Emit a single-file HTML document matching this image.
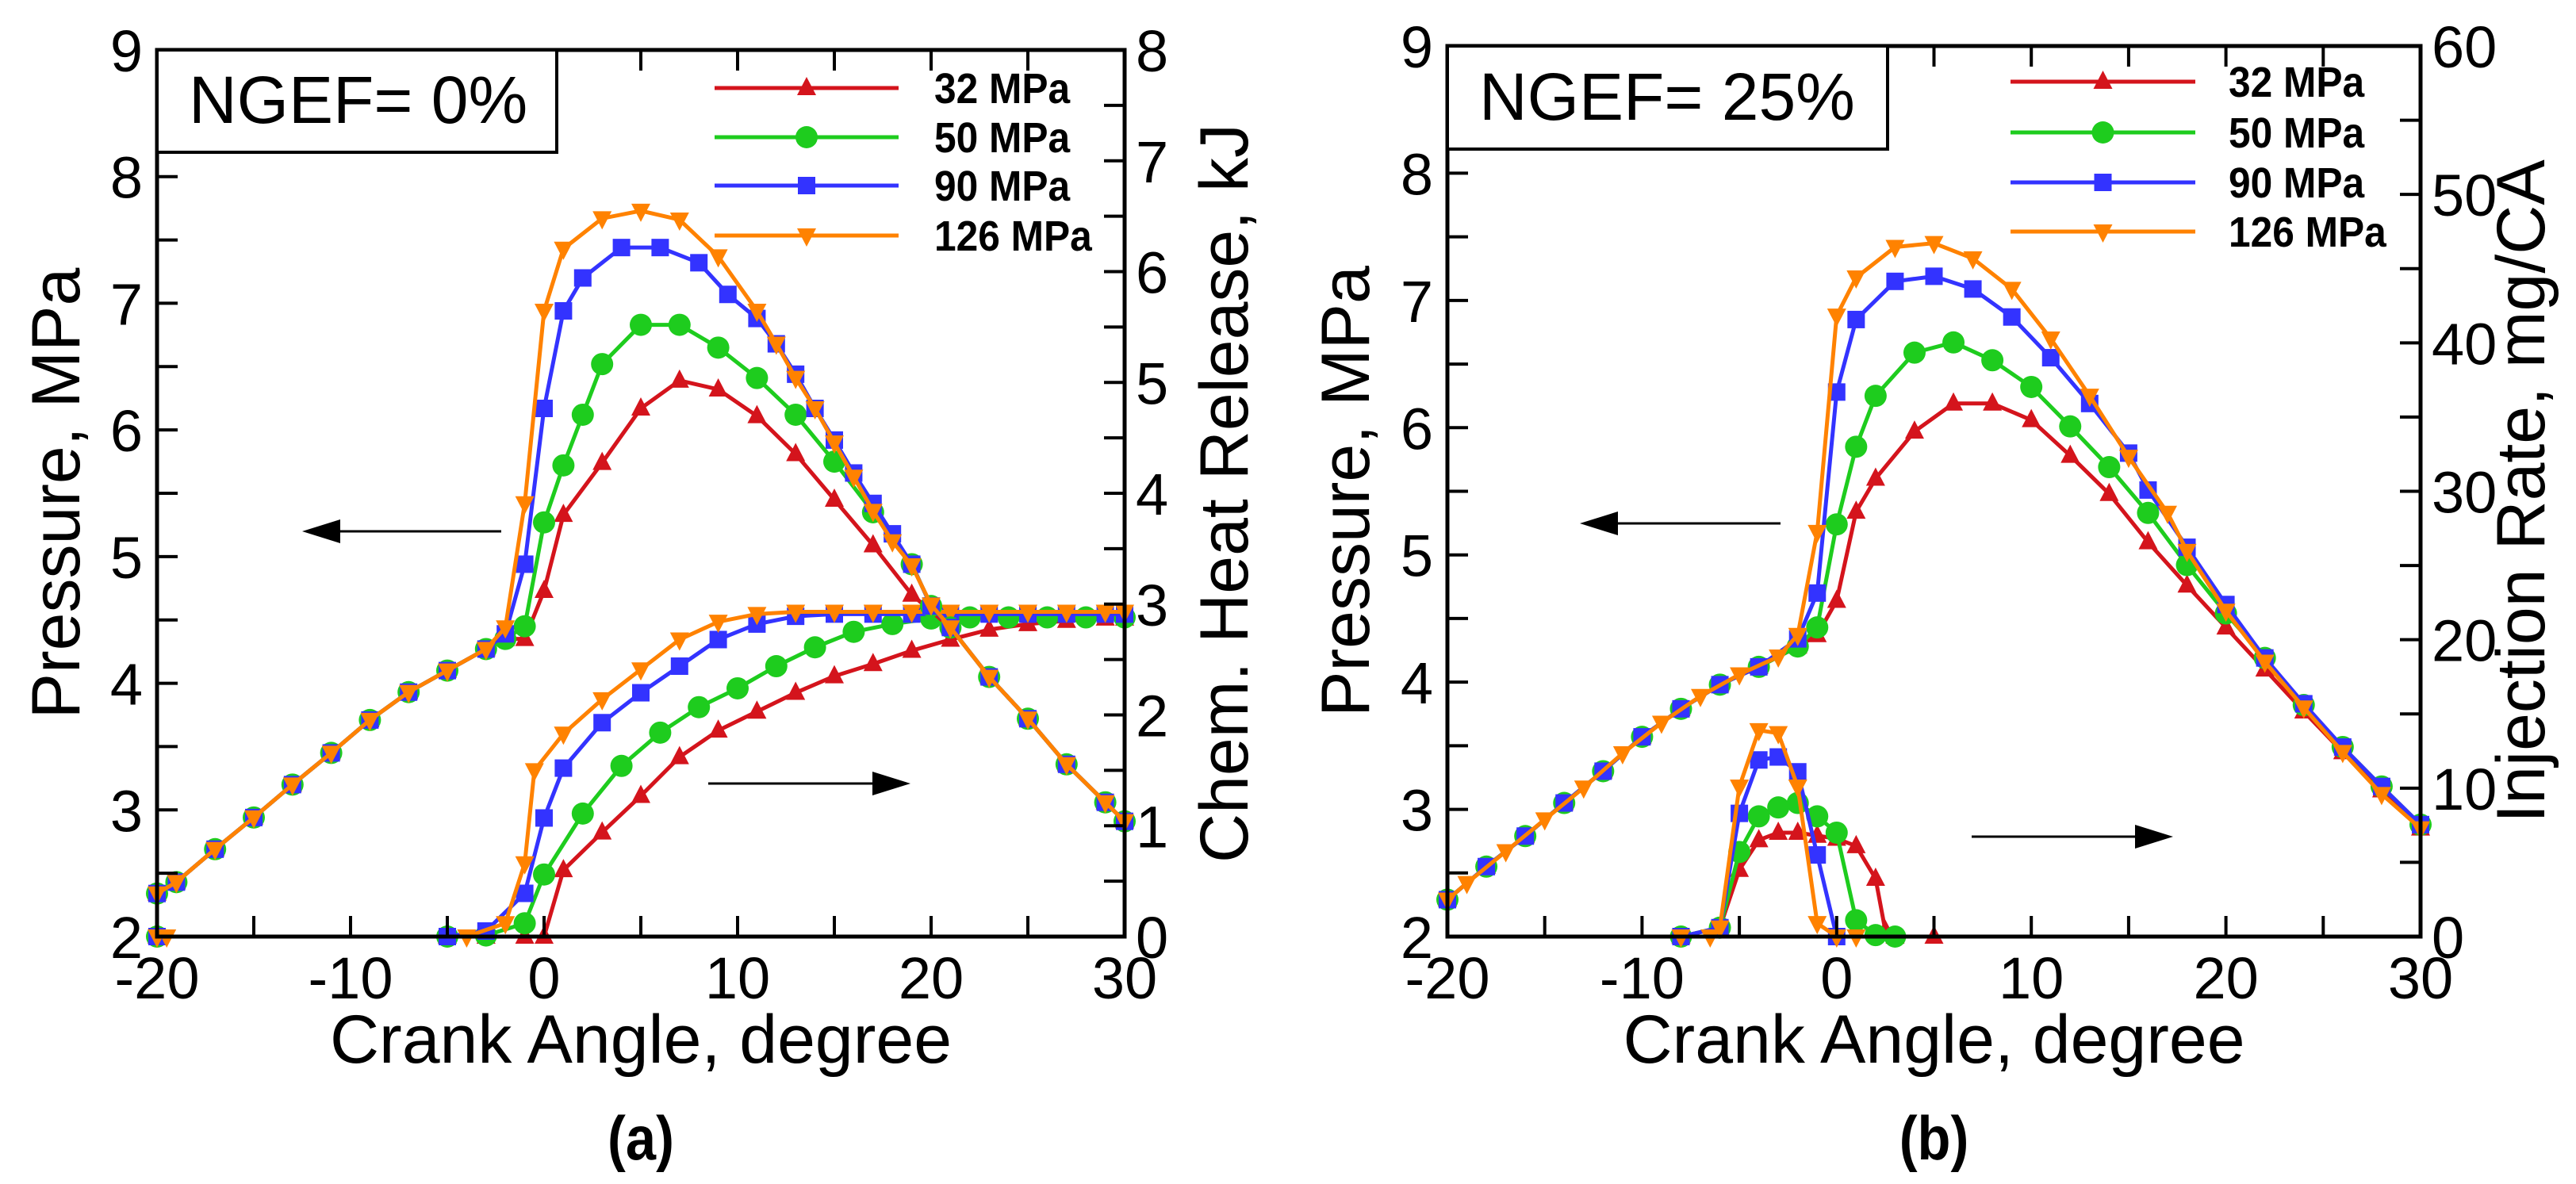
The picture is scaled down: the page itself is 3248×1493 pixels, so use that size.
<!DOCTYPE html>
<html><head><meta charset="utf-8"><style>
body{margin:0;background:#fff}
svg{display:block;font-family:"Liberation Sans",Arial,sans-serif}
</style></head><body>
<svg id="fig" width="3248" height="1493" viewBox="0 0 3248 1493" xmlns="http://www.w3.org/2000/svg"></svg>
<script>
// ---------- Panel (a) data: NGEF = 0% ----------
const aPx32 = [-20,-19,-17,-15,-13,-11,-9,-7,-5,-3,-2,-1,0,1,3,5,7,9,11,13,15,17,19,21,23,25,27,29,30];
const aP32  = [2.34,2.43,2.69,2.94,3.2,3.45,3.71,3.93,4.1,4.27,4.35,4.35,4.73,5.33,5.74,6.17,6.39,6.32,6.11,5.81,5.45,5.09,4.7,4.44,4.05,3.72,3.36,3.06,2.91];
const aPx50 = [-20,-19,-17,-15,-13,-11,-9,-7,-5,-3,-2,-1,0,1,2,3,5,7,9,11,13,15,17,19,20,21,23,25,27,29,30];
const aP50  = [2.34,2.43,2.69,2.94,3.2,3.45,3.71,3.93,4.1,4.27,4.35,4.45,5.27,5.72,6.12,6.52,6.83,6.83,6.65,6.41,6.12,5.75,5.35,4.94,4.61,4.44,4.05,3.72,3.36,3.06,2.91];
const aPx90 = [-20,-19,-17,-15,-13,-11,-9,-7,-5,-3,-2,-1,0,1,2,4,6,8,9.5,11,12,13,14,15,16,17,18,19,20,21,23,25,27,29,30];
const aP90  = [2.34,2.43,2.69,2.94,3.2,3.45,3.71,3.93,4.1,4.27,4.39,4.94,6.17,6.94,7.2,7.44,7.44,7.32,7.07,6.88,6.68,6.44,6.17,5.92,5.66,5.42,5.18,4.94,4.61,4.44,4.05,3.72,3.36,3.06,2.91];
const aPx126 = [-20,-19,-17,-15,-13,-11,-9,-7,-5,-3,-2,-1,0,1,3,5,7,9,11,12,13,14,15,16,17,18,19,20,21,23,25,27,29,30];
const aP126  = [2.34,2.43,2.69,2.94,3.2,3.45,3.71,3.93,4.1,4.27,4.44,5.42,6.94,7.43,7.67,7.73,7.66,7.37,6.94,6.68,6.41,6.17,5.9,5.63,5.36,5.12,4.93,4.62,4.44,4.05,3.72,3.36,3.06,2.91];
const aHx32 = [-20,-5,-3,-1,0,1,3,5,7,9,11,13,15,17,19,21,23,25,27,29,30];
const aH32  = [0,0,0,0,0,0.6,0.94,1.27,1.62,1.86,2.03,2.2,2.35,2.46,2.58,2.68,2.77,2.82,2.85,2.87,2.87];
const aHx50 = [-20,-5,-3,-1,0,2,4,6,8,10,12,14,16,18,20,22,24,26,28,30];
const aH50  = [0,0,0.01,0.12,0.56,1.11,1.54,1.84,2.07,2.24,2.44,2.61,2.75,2.82,2.87,2.88,2.88,2.88,2.88,2.88];
const aHx90 = [-20,-5,-3,-1,0,1,3,5,7,9,11,13,15,17,19,21,23,25,27,29,30];
const aH90  = [0,0,0.05,0.39,1.07,1.52,1.93,2.2,2.44,2.68,2.82,2.89,2.91,2.91,2.91,2.91,2.91,2.91,2.91,2.91,2.91];
const aHx126 = [-20,-19.5,-4,-2,-1,-0.5,1,3,5,7,9,11,13,15,17,19,21,23,25,27,29,30];
const aH126  = [0,0,0,0.12,0.66,1.5,1.83,2.14,2.41,2.68,2.84,2.91,2.93,2.93,2.93,2.93,2.93,2.93,2.93,2.93,2.93,2.93];

// ---------- Panel (b) data: NGEF = 25% ----------
const bPx = [-20,-18,-16,-14,-12,-10,-8,-6,-4,-2,-1,0,1,2,4,6,8,10,12,14,16,18,20,22,24,26,28,30];
const bP32 = [2.29,2.55,2.79,3.05,3.3,3.57,3.79,3.98,4.12,4.28,4.37,4.64,5.34,5.6,5.97,6.19,6.19,6.06,5.78,5.48,5.1,4.76,4.43,4.1,3.77,3.45,3.15,2.85];
const bP50 = [2.29,2.55,2.79,3.05,3.3,3.57,3.79,3.98,4.12,4.28,4.43,5.24,5.85,6.25,6.59,6.67,6.53,6.32,6.01,5.69,5.33,4.92,4.54,4.19,3.82,3.49,3.18,2.88];
const bPx90 = [-20,-18,-16,-14,-12,-10,-8,-6,-4,-2,-1,0,1,3,5,7,9,11,13,15,16,18,20,22,24,26,28,30];
const bP90 = [2.29,2.55,2.79,3.05,3.3,3.57,3.79,3.98,4.12,4.34,4.7,6.28,6.85,7.15,7.19,7.09,6.87,6.55,6.19,5.8,5.51,5.06,4.61,4.19,3.83,3.49,3.18,2.88];
const bPx126 = [-20,-19,-17,-15,-13,-11,-9,-7,-5,-3,-2,-1,0,1,3,5,7,9,11,13,15,17,18,20,22,24,26,28,30];
const bP126 = [2.29,2.42,2.67,2.92,3.17,3.44,3.68,3.89,4.06,4.2,4.37,5.18,6.88,7.18,7.42,7.45,7.33,7.09,6.7,6.25,5.77,5.33,5.03,4.56,4.16,3.8,3.45,3.12,2.85];
const bIx32 = [-8,-6,-5,-4,-3,-2,-1,0,1,2,2.5,3,5];
const bI32  = [0,0.6,4.5,6.5,7.0,7.0,6.8,6.6,6.1,3.9,0.4,0,0];
const bIx50 = [-8,-6,-5,-4,-3,-2,-1,0,1,2,3];
const bI50  = [0,0.6,5.7,8.1,8.7,9.0,8.1,7.0,1.1,0.1,0];
const bIx90 = [-8,-6,-5,-4,-3,-2,-1,0];
const bI90  = [0,0.6,8.3,11.9,12.1,11.1,5.5,0];
const bIx126 = [-8,-6.5,-6,-5,-4,-3,-2,-1,0,1];
const bI126  = [0,0,0.6,10.1,13.9,13.7,10.1,0.9,0,0];

const seriesNames = ['32 MPa','50 MPa','90 MPa','126 MPa'];
const xTicks = [-20,-10,0,10,20,30];

const NS='http://www.w3.org/2000/svg';
const svg=document.getElementById('fig');
const COL=['#d4141c','#1ecc1e','#3333ff','#ff8200'];
const MK=['tri','circ','sq','tdown'];
function el(tag,attrs,parent){const e=document.createElementNS(NS,tag);for(const k in attrs)e.setAttribute(k,attrs[k]);(parent||svg).appendChild(e);return e;}

function marker(g,type,x,y,c){
  let m;
  if(type==='circ'){m=el('circle',{cx:x,cy:y,r:14,fill:c},g);}
  else if(type==='sq'){m=el('rect',{x:x-11,y:y-11,width:22,height:22,fill:c},g);}
  else if(type==='tri'){m=el('polygon',{points:`${x},${y-14} ${x-12},${y+9} ${x+12},${y+9}`,fill:c},g);}
  else {m=el('polygon',{points:`${x},${y+14} ${x-12},${y-9} ${x+12},${y-9}`,fill:c},g);}
  return m;
}

function panel(o){
  const g=el('g',{});
  
  
  const X=v=>o.L+(v-(-20))/50*(o.R-o.L);
  const YP=v=>o.B-(v-2)/7*(o.B-o.T);
  const YR=v=>o.B-v/o.rmax*(o.B-o.T);
  function draw(xs,ys,Y,i,nm){
    const sg=el('g',{},g);
    
    
    const pts=xs.map((x,j)=>X(x)+','+Y(ys[j])).join(' ');
    const pl=el('polyline',{points:pts,fill:'none',stroke:COL[i],'stroke-width':5,'stroke-linejoin':'round'},sg);
    
    
    xs.forEach((x,j)=>{const m=marker(sg,MK[i],X(x),Y(ys[j]),COL[i]);
      
      });
  }
  for(let i=0;i<4;i++) draw(o.rx[i],o.ry[i],YR,i,o.rname+'-'+i);
  for(let i=0;i<4;i++) draw(o.px[i],o.py[i],YP,i,'pressure-'+i);
  const fr=el('rect',{x:o.L,y:o.T,width:o.R-o.L,height:o.B-o.T,fill:'none',stroke:'#000','stroke-width':5},g);
  
  
  const tk=26;
  for(let v=-20;v<=30;v+=5){
    const x=X(v);
    el('line',{x1:x,y1:o.B,x2:x,y2:o.B-tk,stroke:'#000','stroke-width':4},g);
    el('line',{x1:x,y1:o.T,x2:x,y2:o.T+tk,stroke:'#000','stroke-width':4},g);
  }
  xTicks.forEach(v=>{const t=el('text',{x:X(v),y:o.B+78,'font-size':74,'text-anchor':'middle'},g);t.textContent=v;
    
    });
  for(let v=2;v<=9.001;v+=0.5){
    const y=YP(v);
    el('line',{x1:o.L,y1:y,x2:o.L+tk,y2:y,stroke:'#000','stroke-width':4},g);
    if(Number.isInteger(v)){const t=el('text',{x:o.L-18,y:y+27,'font-size':74,'text-anchor':'end'},g);t.textContent=v;
      
      }
  }
  for(let v=0;v<=o.rmax+1e-6;v+=o.rminor){
    const y=YR(v);
    el('line',{x1:o.R,y1:y,x2:o.R-tk,y2:y,stroke:'#000','stroke-width':4},g);
    if(Math.abs(v/o.rmajor-Math.round(v/o.rmajor))<1e-6){const t=el('text',{x:o.R+14,y:y+27,'font-size':74},g);t.textContent=Math.round(v);
      
      }
  }
  let t=el('text',{x:(o.L+o.R)/2,y:1340,'font-size':86,'text-anchor':'middle'},g);t.textContent='Crank Angle, degree';
  
  
  t=el('text',{x:0,y:0,'font-size':86,'text-anchor':'middle',transform:`translate(${o.ylx},${(o.T+o.B)/2}) rotate(-90)`},g);t.textContent='Pressure, MPa';
  
  
  t=el('text',{x:0,y:0,'font-size':86,'text-anchor':'middle',transform:`translate(${o.yrx},${(o.T+o.B)/2}) rotate(-90)`},g);t.textContent=o.rtitle;
  
  
  t=el('text',{x:0,y:0,'font-size':78,'font-weight':'bold','text-anchor':'middle',transform:`translate(${(o.L+o.R)/2},1462) scale(0.88,1)`},g);t.textContent=o.cap;
  
  
  const bx=el('rect',{x:o.L,y:o.T,width:o.boxW,height:o.boxB-o.T,fill:'#fff',stroke:'#000','stroke-width':4},g);
  
  
  t=el('text',{x:o.L+40,y:o.boxB-37,'font-size':84},g);t.textContent=o.ngef;
  
  
  for(let i=0;i<4;i++){
    const lg=el('g',{},g);
    
    
    const y=o.legY[i];
    el('line',{x1:o.legX1,y1:y,x2:o.legX2,y2:y,stroke:COL[i],'stroke-width':5},lg);
    marker(lg,MK[i],(o.legX1+o.legX2)/2,y,COL[i]);
    const lt=el('text',{x:0,y:0,'font-size':54,'font-weight':'bold',transform:`translate(${o.legTX},${y+19}) scale(0.92,1)`},lg);lt.textContent=seriesNames[i];
  }
  function arrow(x1,x2,y,nm){
    const ag=el('g',{},g);
    
    
    const d=x2>x1?1:-1;
    el('line',{x1:x1,y1:y,x2:x2-d*40,y2:y,stroke:'#000','stroke-width':3},ag);
    el('polygon',{points:`${x2},${y} ${x2-d*48},${y-15} ${x2-d*48},${y+15}`,fill:'#000'},ag);
  }
  arrow(o.arL[0],o.arL[1],o.arL[2],'left-axis-arrow');
  arrow(o.arR[0],o.arR[1],o.arR[2],'right-axis-arrow');
}

panel({name:'panel-a',L:198,R:1418,T:63,B:1181,rmax:8,rminor:0.5,rmajor:1,
  px:[aPx32,aPx50,aPx90,aPx126],py:[aP32,aP50,aP90,aP126],
  rx:[aHx32,aHx50,aHx90,aHx126],ry:[aH32,aH50,aH90,aH126],rname:'heat-release',
  rtitle:'Chem. Heat Release, kJ',ylx:100,yrx:1573,cap:'(a)',ngef:'NGEF= 0%',boxW:504,boxB:192,
  legY:[111,173,234,297],legX1:901,legX2:1133,legTX:1178,
  arL:[632,381,670],arR:[893,1148,988]});
panel({name:'panel-b',L:1825,R:3052,T:58,B:1181,rmax:60,rminor:5,rmajor:10,
  px:[bPx,bPx,bPx90,bPx126],py:[bP32,bP50,bP90,bP126],
  rx:[bIx32,bIx50,bIx90,bIx126],ry:[bI32,bI50,bI90,bI126],rname:'injection-rate',
  rtitle:'Injection Rate, mg/CA',ylx:1726,yrx:3208,cap:'(b)',ngef:'NGEF= 25%',boxW:555,boxB:188,
  legY:[103,167,230,292],legX1:2535,legX2:2768,legTX:2810,
  arL:[2245,1992,660],arR:[2486,2740,1055]});
</script>
</body></html>
